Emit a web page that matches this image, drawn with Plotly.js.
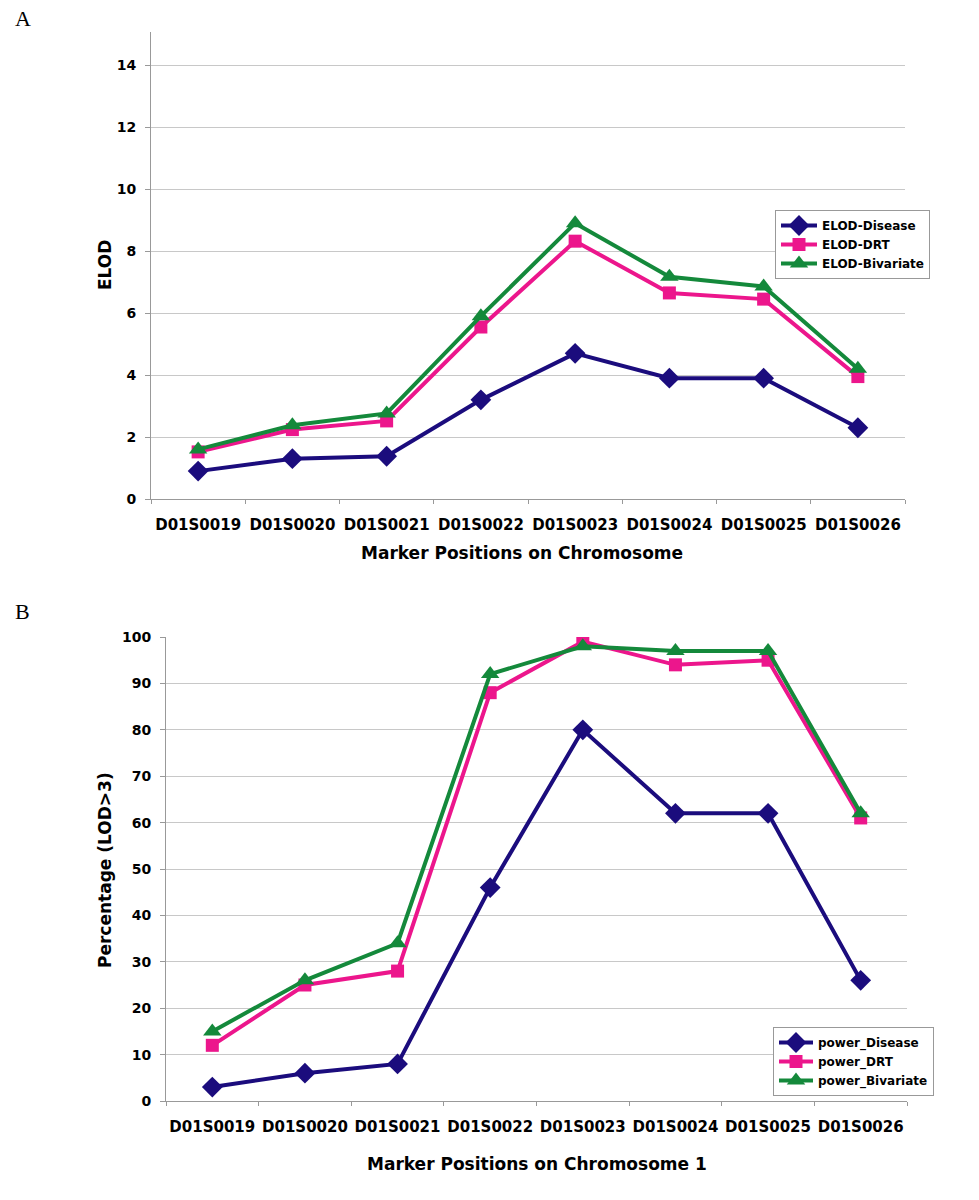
<!DOCTYPE html>
<html><head><meta charset="utf-8">
<script src="https://cdn.plot.ly/plotly-3.0.1.min.js"></script>
<style>html,body{margin:0;padding:0;background:#fff}#plot{width:979px;height:1200px}</style>
</head><body><div id="plot"></div>
<script>
const markers = ["D01S0019","D01S0020","D01S0021","D01S0022","D01S0023","D01S0024","D01S0025","D01S0026"];
const elodDisease   = [0.9, 1.3, 1.38, 3.2, 4.7, 3.9, 3.9, 2.3];
const elodDRT       = [1.52, 2.24, 2.52, 5.55, 8.32, 6.65, 6.45, 3.95];
const elodBivariate = [1.6, 2.38, 2.76, 5.9, 8.9, 7.17, 6.86, 4.2];
const powerDisease   = [3, 6, 8, 46, 80, 62, 62, 26];
const powerDRT       = [12, 25, 28, 88, 99, 94, 95, 61];
const powerBivariate = [15, 26, 34, 92, 98, 97, 97, 62];

const NAVY = "#1b0c7d", PINK = "#ec168c", GREEN = "#14893b";
const FONT = "DejaVu Sans, Arial, sans-serif";

function tr(y, name, color, sym, size, xa, ya, leg) {
  return {x: markers, y: y, name: name, type: "scatter", mode: "lines+markers",
    xaxis: xa, yaxis: ya, legend: leg,
    line: {color: color, width: 4},
    marker: {color: color, symbol: sym, size: size}};
}
const data = [
  tr(elodDisease, "ELOD-Disease", NAVY, "diamond", 16, "x", "y", "legend"),
  tr(elodDRT, "ELOD-DRT", PINK, "square", 13, "x", "y", "legend"),
  tr(elodBivariate, "ELOD-Bivariate", GREEN, "triangle-up", 16, "x", "y", "legend"),
  tr(powerDisease, "power_Disease", NAVY, "diamond", 16, "x2", "y2", "legend2"),
  tr(powerDRT, "power_DRT", PINK, "square", 13, "x2", "y2", "legend2"),
  tr(powerBivariate, "power_Bivariate", GREEN, "triangle-up", 16, "x2", "y2", "legend2")
];

const tickFont = {family: FONT, size: 15, color: "#000", weight: "bold"};
function xax(dom, anchor) {
  return {domain: dom, anchor: anchor, type: "category", range: [-0.5, 7.5], tickson: "boundaries",
    tickangle: 0, ticks: "outside", ticklen: 4, tickcolor: "#999", showline: true, linecolor: "#999", linewidth: 1,
    showgrid: false, zeroline: false, tickfont: tickFont, ticklabelstandoff: 12, fixedrange: true, automargin: false};
}
function yax(dom, anchor, range, dtick) {
  return {domain: dom, anchor: anchor, range: range, dtick: dtick, ticks: "outside", ticklen: 5, tickcolor: "#999",
    showline: true, linecolor: "#999", linewidth: 1, showgrid: true, gridcolor: "#c8c8c8", gridwidth: 1,
    zeroline: false, tickfont: {family: FONT, size: 14, color: "#000", weight: "bold"},
    ticklabelstandoff: 6, fixedrange: true, automargin: false};
}
const W = 979, H = 1200;
const px = v => v / W, py = v => 1 - v / H;
const legFont = {family: FONT, size: 12, weight: "bold"};
const layout = {
  width: W, height: H, margin: {l: 0, r: 0, t: 0, b: 0},
  paper_bgcolor: "#fff", plot_bgcolor: "#fff", font: {family: FONT, color: "#000"},
  xaxis: xax([px(151), px(905)], "y"),
  yaxis: yax([py(499), py(32)], "x", [0, 15.07], 2),
  xaxis2: xax([px(166), px(907)], "y2"),
  yaxis2: yax([py(1101), py(637)], "x2", [0, 100], 10),
  legend: {x: px(775), y: py(210), xanchor: "left", yanchor: "top", bordercolor: "#999", borderwidth: 1,
    bgcolor: "#fff", font: legFont, tracegroupgap: 0, itemwidth: 36},
  legend2: {x: px(773), y: py(1027), xanchor: "left", yanchor: "top", bordercolor: "#999", borderwidth: 1,
    bgcolor: "#fff", font: legFont, tracegroupgap: 0, itemwidth: 34},
  annotations: [
    {text: "A", x: px(13), y: py(18), xref: "paper", yref: "paper", showarrow: false,
      xanchor: "left", yanchor: "middle", font: {family: "Liberation Serif, serif", size: 22}},
    {text: "B", x: px(13), y: py(611), xref: "paper", yref: "paper", showarrow: false,
      xanchor: "left", yanchor: "middle", font: {family: "Liberation Serif, serif", size: 22}},
    {text: "ELOD", x: px(105), y: py(265), xref: "paper", yref: "paper", showarrow: false, textangle: -90,
      xanchor: "center", yanchor: "middle", font: {family: FONT, size: 17, weight: "bold"}},
    {text: "Marker Positions on Chromosome", x: px(522), y: py(553), xref: "paper", yref: "paper", showarrow: false,
      xanchor: "center", yanchor: "middle", font: {family: FONT, size: 17, weight: "bold"}},
    {text: "Percentage (LOD>3)", x: px(105), y: py(870), xref: "paper", yref: "paper", showarrow: false, textangle: -90,
      xanchor: "center", yanchor: "middle", font: {family: FONT, size: 17, weight: "bold"}},
    {text: "Marker Positions on Chromosome 1", x: px(537), y: py(1164), xref: "paper", yref: "paper", showarrow: false,
      xanchor: "center", yanchor: "middle", font: {family: FONT, size: 17, weight: "bold"}}
  ]
};
Plotly.newPlot("plot", data, layout, {displayModeBar: false, staticPlot: true});
</script></body></html>
